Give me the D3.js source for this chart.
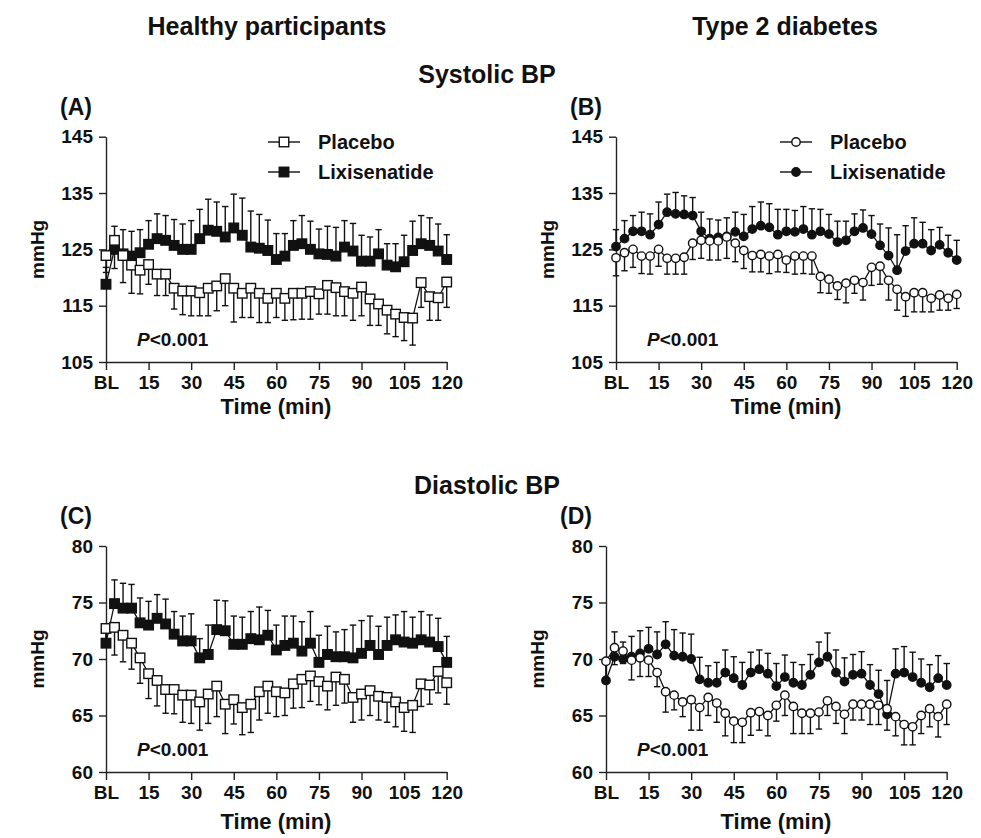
<!DOCTYPE html>
<html>
<head>
<meta charset="utf-8">
<script src="https://cdn.jsdelivr.net/npm/d3@7"></script>
<style>
  body { margin: 0; background: #fff; }
  text { font-family: "Liberation Sans", Arial, Helvetica, sans-serif; font-weight: bold; fill: #111; }
</style>
</head>
<body>
<script>
// whole figure size
var width = 981,
    height = 838;

var svg = d3.select('body')
  .append('svg')
  .attr('width', width)
  .attr('height', height);

// sampling times (min), BL = 0
var time = [0, 3, 6, 9, 12, 15, 18, 21, 24, 27, 30, 33, 36, 39, 42, 45, 48, 51, 54, 57,
            60, 63, 66, 69, 72, 75, 78, 81, 84, 87, 90, 93, 96, 99, 102, 105, 108, 111, 114, 117, 120];
var xTicks = [0, 15, 30, 45, 60, 75, 90, 105, 120];

// (A) healthy participants, systolic BP
var healthySysPla = [123.9, 126.6, 123.9, 122.2, 121.3, 122.3, 120.6, 120.6, 118.1, 117.6, 117.6, 117.3, 118.1, 118.5,
  119.8, 118.1, 117.2, 118.1, 117.2, 116.3, 117.2, 116.3, 117.2, 117.2, 117.5, 117.1, 118.6, 118.2, 117.5, 117.2,
  118.3, 116.2, 115.3, 114.2, 113.5, 112.9, 112.8, 119.1, 116.6, 116.4, 119.2];
var healthySysPlaErr = [3, 5.0, 4.8, 5.0, 4.2, 3.5, 3.8, 3.8, 3.7, 4.2, 4.4, 4.1, 4.9, 4.4, 4.8, 6.0, 4.3, 5.2, 5.2, 4.3,
  4.3, 3.9, 4.7, 4.6, 4.9, 3.6, 5.1, 5.0, 4.3, 4.8, 5.1, 4.7, 3.8, 4.2, 4.0, 4.1, 4.8, 4.4, 4.2, 4.0, 4.5];
var healthySysLix = [118.8, 125.0, 124.2, 123.8, 124.4, 125.9, 126.9, 126.6, 125.7, 125.0, 125.0, 126.9, 128.4, 128.2,
  127.2, 128.8, 127.5, 125.4, 125.2, 124.8, 123.2, 123.8, 125.7, 126.0, 125.0, 124.2, 124.1, 123.8, 125.4, 124.7,
  122.9, 122.9, 124.2, 122.2, 121.9, 122.8, 124.8, 126.0, 125.7, 124.7, 123.2];
var healthySysLixErr = [3, 4.1, 4.3, 4.4, 4.1, 4.2, 4.4, 4.4, 4.6, 4.5, 5.1, 5.2, 5.5, 5.2, 5.4, 6.0, 6.6, 6.4, 6.0, 5.4,
  4.6, 4.0, 4.4, 5.0, 5.0, 4.4, 5.0, 5.1, 4.7, 4.9, 4.6, 4.3, 4.3, 3.8, 4.1, 4.7, 5.2, 5.0, 4.9, 4.8, 4.4];

// (B) type 2 diabetes, systolic BP
var diabSysPla = [123.5, 124.4, 125.0, 123.8, 123.8, 125.0, 123.4, 123.4, 123.6, 126.1, 126.6, 126.5, 126.5, 127.2,
  126.1, 124.8, 123.9, 124.1, 123.8, 124.1, 123.1, 123.8, 123.8, 123.8, 120.2, 119.7, 118.5, 119.0, 119.5, 119.1,
  121.8, 122.0, 119.5, 117.9, 116.6, 117.3, 117.3, 116.3, 116.9, 116.3, 117.0];
var diabSysPlaErr = [3.2, 3.2, 3.2, 3.1, 3.2, 3.0, 2.8, 2.8, 3.0, 2.9, 3.2, 3.4, 3.4, 3.8, 3.3, 3.2, 2.9, 3.1, 3.1, 3.1,
  2.2, 3.2, 3.1, 3.2, 2.9, 2.5, 2.4, 3.5, 2.3, 3.1, 3.2, 3.2, 3.5, 3.7, 3.5, 3.4, 3.4, 2.4, 2.7, 2.1, 2.5];
var diabSysLix = [125.5, 126.9, 128.2, 128.2, 127.6, 129.4, 131.6, 131.3, 131.2, 131.0, 128.2, 126.9, 127.1, 127.3,
  128.1, 127.3, 128.6, 129.2, 128.9, 127.6, 128.2, 128.1, 128.6, 127.6, 128.2, 127.7, 126.3, 126.6, 128.2, 128.8,
  127.7, 125.7, 123.9, 121.3, 124.7, 126.0, 126.0, 124.8, 125.8, 124.4, 123.1];
var diabSysLixErr = [3, 3.2, 2.8, 3.4, 3.7, 4.0, 3.2, 3.8, 3.3, 3.2, 3.4, 3.5, 3.1, 3.3, 3.5, 3.9, 4.0, 4.2, 4.2, 4.5,
  3.9, 3.8, 4.0, 4.6, 3.9, 3.5, 3.7, 3.4, 3.1, 3.2, 3.3, 3.8, 4.9, 6.3, 4.5, 4.6, 3.8, 3.7, 3.1, 3.1, 3.5];

// (C) healthy participants, diastolic BP
var healthyDiaPla = [72.7, 72.8, 72.1, 71.4, 70.1, 68.7, 68.1, 67.3, 67.3, 66.8, 66.8, 66.2, 66.9, 67.6, 66.0, 66.4,
  65.7, 66.0, 67.1, 67.6, 67.1, 67.0, 67.8, 68.2, 68.5, 68.0, 67.6, 68.4, 68.2, 66.6, 66.9, 67.2, 66.7, 66.6, 66.2,
  65.7, 65.9, 67.8, 67.7, 68.9, 67.9];
var healthyDiaPlaErr = [1.5, 2.45, 2.35, 2.3, 2.25, 2.2, 2.25, 2.1, 2.15, 2.4, 2.5, 2.5, 2.6, 2.7, 2.6, 2.15, 2.4, 2.5,
  2.5, 2.4, 2.2, 2.0, 2.15, 2.5, 2.25, 2.05, 2.1, 2.5, 2.1, 2.2, 2.3, 2.2, 2.1, 2.2, 2.2, 2.1, 2.4, 2.0, 1.7, 1.9, 1.9];
var healthyDiaLix = [71.4, 74.9, 74.5, 74.5, 73.2, 73.0, 73.6, 73.1, 72.2, 71.6, 71.6, 70.1, 70.4, 72.6, 72.5, 71.3,
  71.3, 71.8, 71.7, 72.1, 70.8, 71.2, 71.4, 70.7, 71.4, 69.7, 70.4, 70.2, 70.2, 70.1, 70.5, 71.2, 70.4, 71.2, 71.7,
  71.5, 71.4, 71.7, 71.5, 71.1, 69.7];
var healthyDiaLixErr = [1.5, 2.1, 2.2, 2.1, 2.2, 2.1, 2.1, 2.2, 2.0, 2.2, 2.4, 1.7, 2.6, 2.6, 2.65, 2.5, 2.4, 2.4, 2.9,
  2.2, 2.2, 2.6, 2.4, 2.6, 2.8, 2.4, 2.5, 2.2, 2.4, 2.9, 2.9, 2.6, 2.5, 2.5, 2.2, 2.7, 2.3, 2.5, 2.4, 2.5, 2.3];

// (D) type 2 diabetes, diastolic BP
var diabDiaPla = [69.8, 71.0, 70.7, 69.9, 70.1, 69.9, 68.8, 67.1, 66.8, 66.2, 66.4, 65.7, 66.6, 66.1, 65.2, 64.5, 64.4,
  65.25, 65.35, 65.0, 65.9, 66.8, 65.8, 65.2, 65.2, 65.3, 66.3, 65.8, 65.1, 66.0, 66.0, 66.0, 65.9, 65.6, 64.9, 64.2,
  64.0, 65.0, 65.6, 64.9, 66.0];
var diabDiaPlaErr = [1.5, 1.5, 1.1, 1.75, 1.65, 1.45, 1.25, 1.8, 1.3, 1.3, 2.7, 2.0, 1.6, 1.7, 2.0, 1.9, 1.8, 2.0, 1.65,
  1.8, 1.4, 1.8, 2.4, 1.8, 1.8, 1.5, 1.3, 1.5, 1.7, 1.4, 1.4, 1.8, 1.7, 1.9, 1.7, 1.8, 1.6, 1.6, 1.6, 1.8, 1.8];
var diabDiaLix = [68.1, 70.2, 70.0, 70.2, 70.5, 70.9, 70.4, 71.3, 70.3, 70.2, 70.0, 68.2, 67.9, 67.9, 68.8, 68.3, 67.7,
  68.8, 69.1, 68.7, 67.6, 68.4, 67.9, 67.7, 68.6, 69.7, 70.2, 68.8, 68.0, 68.6, 68.7, 67.7, 66.9, 65.1, 68.7, 68.8,
  68.4, 67.9, 67.5, 68.3, 67.7];
var diabDiaLixErr = [1.5, 2.2, 1.5, 1.8, 2.0, 1.9, 2.0, 2.0, 2.3, 2.1, 2.2, 1.95, 1.5, 1.8, 2.0, 1.9, 2.0, 1.8, 1.7, 1.8,
  2.0, 1.95, 1.8, 1.8, 1.8, 1.8, 2.1, 2.0, 2.1, 1.8, 1.95, 1.8, 2.1, 3.0, 2.2, 2.3, 2.2, 2.1, 2.0, 2.0, 1.9];

var sysTicks = [105, 115, 125, 135, 145];
var diaTicks = [60, 65, 70, 75, 80];

// panel setup: pixel frame of each plot and what goes in it
var panels = [
  { label: '(A)', x0: 106, top: 136.7, bottom: 362, domain: [105, 145], ticks: sysTicks, shape: 'square',
    pla: healthySysPla, plaErr: healthySysPlaErr, lix: healthySysLix, lixErr: healthySysLixErr, legend: true, titleDy: 52 },
  { label: '(B)', x0: 616, top: 136.7, bottom: 362, domain: [105, 145], ticks: sysTicks, shape: 'circle',
    pla: diabSysPla, plaErr: diabSysPlaErr, lix: diabSysLix, lixErr: diabSysLixErr, legend: true, titleDy: 52 },
  { label: '(C)', x0: 106, top: 546, bottom: 772, domain: [60, 80], ticks: diaTicks, shape: 'square',
    pla: healthyDiaPla, plaErr: healthyDiaPlaErr, lix: healthyDiaLix, lixErr: healthyDiaLixErr, legend: false, titleDy: 57 },
  { label: '(D)', x0: 606, top: 546, bottom: 772, domain: [60, 80], ticks: diaTicks, shape: 'circle',
    pla: diabDiaPla, plaErr: diabDiaPlaErr, lix: diabDiaLix, lixErr: diabDiaLixErr, legend: false, titleDy: 57 }
];

var plotW = 340.7;
var sq = 9.5, rad = 4.2, cap = 3.2;

// headers
function label(txt, x, y, size, anchor) {
  return svg.append('text')
    .attr('x', x).attr('y', y)
    .attr('font-size', size)
    .attr('text-anchor', anchor || 'middle')
    .text(txt);
}
label('Healthy participants', 267, 35, 25);
label('Type 2 diabetes', 785, 35, 25);
label('Systolic BP', 487, 83, 25);
label('Diastolic BP', 487, 494, 25);

// draw one marker (square or circle) into a selection
function marker(g, shape, cx, cy, fill) {
  if (shape === 'square') {
    g.append('rect')
      .attr('x', cx - sq / 2).attr('y', cy - sq / 2)
      .attr('width', sq).attr('height', sq)
      .attr('fill', fill).attr('stroke', '#111').attr('stroke-width', 1.4);
  } else {
    g.append('circle')
      .attr('cx', cx).attr('cy', cy).attr('r', rad)
      .attr('fill', fill).attr('stroke', '#111').attr('stroke-width', 1.4);
  }
}

panels.forEach(function(p) {
  var x = d3.scaleLinear().domain([0, 120]).range([p.x0, p.x0 + plotW]);
  var y = d3.scaleLinear().domain(p.domain).range([p.bottom, p.top]);
  var g = svg.append('g');

  // axes
  var xAxis = g.append('g')
    .attr('transform', 'translate(0,' + p.bottom + ')')
    .call(d3.axisBottom(x).tickValues(xTicks).tickSize(8).tickSizeOuter(0).tickPadding(6)
      .tickFormat(function(d) { return d === 0 ? 'BL' : d; }));
  var yAxis = g.append('g')
    .attr('transform', 'translate(' + p.x0 + ',0)')
    .call(d3.axisLeft(y).tickValues(p.ticks).tickSize(7).tickSizeOuter(0).tickPadding(6));
  [xAxis, yAxis].forEach(function(a) {
    a.attr('font-family', null).attr('font-size', null);
    a.selectAll('path, line').attr('stroke', '#222').attr('stroke-width', 1.4);
    a.selectAll('text').attr('font-size', 19).attr('fill', '#111');
  });

  // axis titles
  label('Time (min)', p.x0 + 170, p.bottom + p.titleDy, 22);
  svg.append('text')
    .attr('transform', 'translate(' + (p.x0 - 62) + ',' + ((p.top + p.bottom) / 2) + ') rotate(-90)')
    .attr('text-anchor', 'middle')
    .attr('font-size', 19)
    .text('mmHg');
  label(p.label, p.x0 - 46, p.top - 22, 23, 'start');

  // p value
  var pt = svg.append('text')
    .attr('x', p.x0 + 31).attr('y', p.bottom - 16)
    .attr('font-size', 19);
  pt.append('tspan').attr('font-style', 'italic').text('P');
  pt.append('tspan').text('<0.001');

  // connecting lines
  var line = d3.line()
    .x(function(d, i) { return x(time[i]); })
    .y(function(d) { return y(d); });
  [p.lix, p.pla].forEach(function(s) {
    g.append('path')
      .datum(s)
      .attr('d', line)
      .attr('fill', 'none')
      .attr('stroke', '#111')
      .attr('stroke-width', 1.3);
  });

  // error bars: lixisenatide upward, placebo downward
  function bars(vals, errs, dir) {
    var eb = g.append('g').attr('stroke', '#111').attr('stroke-width', 1.4);
    vals.forEach(function(v, i) {
      var cx = x(time[i]);
      var yEnd = y(v + dir * errs[i]);
      eb.append('line').attr('x1', cx).attr('x2', cx).attr('y1', y(v)).attr('y2', yEnd);
      eb.append('line').attr('x1', cx - cap).attr('x2', cx + cap).attr('y1', yEnd).attr('y2', yEnd);
    });
  }
  bars(p.lix, p.lixErr, 1);
  bars(p.pla, p.plaErr, -1);

  // markers
  var mk = g.append('g');
  p.lix.forEach(function(v, i) { marker(mk, p.shape, x(time[i]), y(v), '#111'); });
  p.pla.forEach(function(v, i) { marker(mk, p.shape, x(time[i]), y(v), '#fff'); });

  // legend
  if (p.legend) {
    var lx = p.x0 + (p.shape === 'square' ? 178 : 180);
    var names = ['Placebo', 'Lixisenatide'];
    var fills = ['#fff', '#111'];
    names.forEach(function(n, k) {
      var ly = 142 + k * 30;
      svg.append('line')
        .attr('x1', lx - 16).attr('x2', lx + 16).attr('y1', ly).attr('y2', ly)
        .attr('stroke', '#111').attr('stroke-width', 1.4);
      marker(svg, p.shape, lx, ly, fills[k]);
      label(n, lx + 34, ly + 7, 20, 'start');
    });
  }
});
</script>
</body>
</html>
